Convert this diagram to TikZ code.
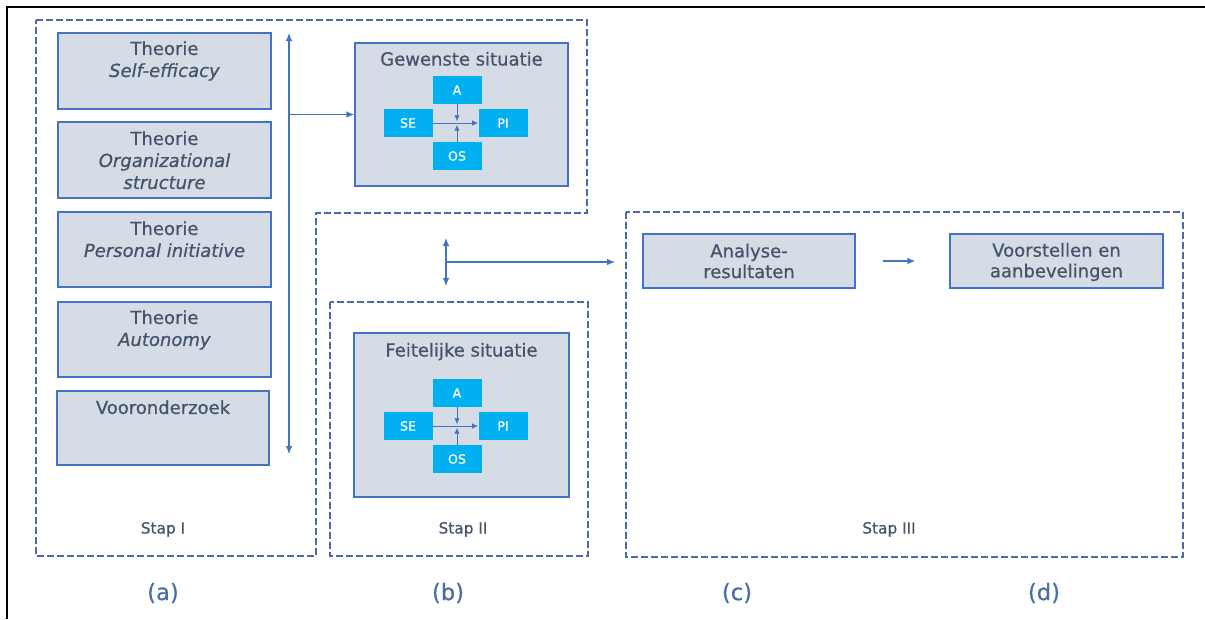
\documentclass[tikz,border=0pt]{standalone}
\usepackage{fontspec}
\setmainfont{DejaVu Sans}[FakeBold=0.7]
\usetikzlibrary{arrows.meta,fit}
\definecolor{boxfill}{HTML}{D6DCE5}
\definecolor{boxline}{HTML}{4472C4}
\definecolor{txt}{HTML}{44546A}
\definecolor{minifill}{HTML}{00B0F0}
\definecolor{arrowc}{HTML}{4472C4}
\definecolor{dashc}{HTML}{4A6AA8}
\definecolor{panelc}{HTML}{4A6FA5}
\newcommand\minidiag[3]{%
  \node[mini] (#1A) at (#2,#3-33) {A};
  \node[mini] (#1SE) at (#2-49,#3) {SE};
  \node[mini] (#1PI) at (#2+46,#3) {PI};
  \node[mini] (#1OS) at (#2,#3+33) {OS};
  \draw[miniarrow] (#1SE.east) -- (#1PI.west);
  \draw[miniarrow] (#1A.south) -- ++(0,17);
  \draw[miniarrow] (#1OS.north) -- ++(0,-17);
}
\tikzset{
  box/.style={draw=boxline, fill=boxfill, line width=1.1pt, inner sep=0pt},
  ttl/.style={text=txt, font=\fontsize{13.5}{16.5}\selectfont, align=center, inner sep=0pt},
  mini/.style={fill=minifill, text=white, font=\fontsize{9.5}{10}\selectfont, minimum width=36.75pt, minimum height=21pt, inner sep=0pt},
  miniarrow/.style={draw=arrowc, line width=0.7pt, -{Latex[length=4.5pt,width=4pt]}},
  arr/.style={draw=arrowc, line width=0.9pt, -{Latex[length=6pt,width=5pt]}},
  darr/.style={draw=arrowc, line width=0.9pt, {Latex[length=6pt,width=5pt]}-{Latex[length=6pt,width=5pt]}},
  region/.style={draw=dashc, line width=1pt, dash pattern=on 5pt off 2.5pt},
  steplbl/.style={text=txt, font=\fontsize{11.5}{13}\selectfont, inner sep=0pt},
  panel/.style={text=panelc, font=\fontsize{17}{20}\selectfont, inner sep=0pt},
}
\begin{document}
\begin{tikzpicture}[x=0.75pt,y=-0.75pt]
\useasboundingbox (0,0) rectangle (1205,619);
% frame
\draw[line width=1.5pt] (7,619) -- (7,7) -- (1205,7);
\draw[line width=2.2pt] (7,7) -- (22,7);
\draw[line width=2.2pt] (1194,7) -- (1205,7);
% regions
\draw[region] (36,20) -- (587,20) -- (587,213) -- (316,213) -- (316,556) -- (36,556) -- cycle;
\draw[region] (330,302) rectangle (588,556);
\draw[region] (626,212) rectangle (1183,557);
% Stap I boxes
\node[box, fit={(58,33) (271,109)}] (th1) {};
\node[ttl, anchor=north] (th1t) at (164.5,41) {Theorie\\\textit{Self-efficacy}};
\node[box, fit={(58,122) (271,198)}] (th2) {};
\node[ttl, anchor=north] (th2t) at (164.5,131) {Theorie\\\textit{Organizational}\\\textit{structure}};
\node[box, fit={(58,212) (271,287)}] (th3) {};
\node[ttl, anchor=north] (th3t) at (164.5,221) {Theorie\\\textit{Personal initiative}};
\node[box, fit={(58,302) (271,377)}] (th4) {};
\node[ttl, anchor=north] (th4t) at (164.5,310) {Theorie\\\textit{Autonomy}};
\node[box, fit={(57,391) (269,465)}] (voo) {};
\node[ttl, anchor=north] (voot) at (163,400) {Vooronderzoek};
% vertical arrow
\coordinate (v1top) at (289,33);
\coordinate (v1bot) at (289,454);
\coordinate (v1mid) at (289,114.5);
\draw[darr] (v1bot) -- (v1top);
% Gewenste situatie
\node[box, fit={(355,43) (568,186)}] (gew) {};
\node[ttl, anchor=base] (gewt) at (461.5,65.5) {Gewenste situatie};
\draw[arr] (v1mid) -- (gew.west);
\minidiag{g}{457}{123}
% Feitelijke situatie
\node[box, fit={(354,333) (569,497)}] (fei) {};
\node[ttl, anchor=base] (feit) at (461.5,356.5) {Feitelijke situatie};
\minidiag{f}{457}{426}
% Stap II arrows
\coordinate (s2top) at (446,238);
\coordinate (s2bot) at (446,286);
\coordinate (s2mid) at (446,262);
\coordinate (s2end) at (615,262);
\draw[darr] (s2bot) -- (s2top);
\draw[arr] (s2mid) -- (s2end);
% Stap III
\node[box, fit={(643,234) (855,288)}] (ana) {};
\node[ttl, font=\fontsize{13.5}{15.5}\selectfont] (anat) at (ana.center) {Analyse-\\resultaten};
\node[box, fit={(950,234) (1163,288)}] (vst) {};
\node[ttl, font=\fontsize{13.5}{15.5}\selectfont] (vstt) at (1056.5,262) {Voorstellen en\\aanbevelingen};
\draw[arr, shorten <=20.25pt, shorten >=25.5pt] (ana.east) -- (vst.west);
% step labels
\node[steplbl, anchor=base] (st1) at (163,533.5) {Stap I};
\node[steplbl, anchor=base] (st2) at (463,533.5) {Stap II};
\node[steplbl, anchor=base] (st3) at (889,533.5) {Stap III};
% panel labels
\node[panel] (pa) at (163,593) {(a)};
\node[panel] (pb) at (448,593) {(b)};
\node[panel] (pc) at (737,593) {(c)};
\node[panel] (pd) at (1044,593) {(d)};
\end{tikzpicture}
\end{document}
